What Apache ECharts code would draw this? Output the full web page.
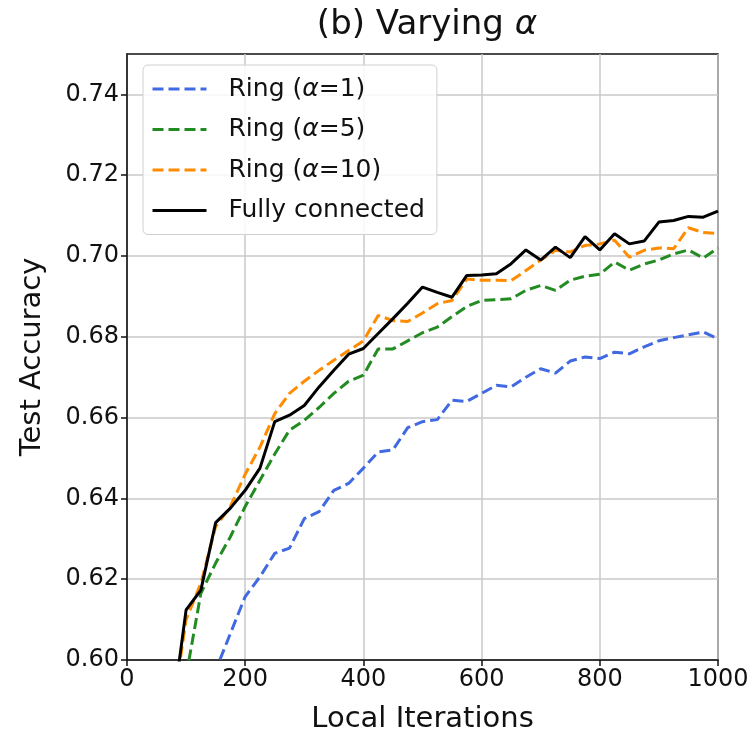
<!DOCTYPE html>
<html>
<head>
<meta charset="utf-8">
<script src="https://cdn.jsdelivr.net/npm/echarts@6/dist/echarts.min.js"></script>
<style>html,body{margin:0;padding:0;background:#fff}#c{width:753px;height:735px}</style>
</head>
<body>
<div id="c"></div>
<script>
const iterations = [75,100,125,150,175,200,225,250,275,300,325,350,375,400,425,450,475,500,525,550,575,600,625,650,675,700,725,750,775,800,825,850,875,900,925,950,975,1000];
const ringA1 = [null,null,0.585,0.5974,0.6066,0.6157,0.6206,0.6264,0.6277,0.635,0.6367,0.642,0.6437,0.6475,0.6515,0.652,0.6575,0.659,0.6595,0.6643,0.664,0.666,0.668,0.6676,0.670,0.6721,0.671,0.674,0.675,0.6746,0.6762,0.6758,0.6775,0.679,0.6798,0.6805,0.6812,0.6795];
const ringA5 = [null,0.596,0.6165,0.624,0.6305,0.638,0.6445,0.651,0.6569,0.6593,0.6625,0.666,0.669,0.6705,0.677,0.677,0.679,0.681,0.6824,0.685,0.6875,0.689,0.6892,0.6894,0.6915,0.6927,0.6915,0.694,0.695,0.6955,0.6985,0.6965,0.698,0.699,0.7005,0.7015,0.6995,0.702];
const ringA10 = [0.585,0.610,0.619,0.633,0.638,0.646,0.6527,0.661,0.666,0.669,0.6717,0.6742,0.6766,0.679,0.6853,0.684,0.6838,0.6859,0.6882,0.689,0.6943,0.694,0.694,0.6939,0.6964,0.699,0.7014,0.701,0.7026,0.703,0.7039,0.6997,0.7014,0.702,0.7018,0.707,0.7058,0.7056];
const fully = [0.585,0.6124,0.6173,0.634,0.6376,0.642,0.6475,0.659,0.6606,0.663,0.6676,0.6717,0.6757,0.6771,0.6808,0.6845,0.6883,0.6923,0.691,0.6898,0.6952,0.6953,0.6956,0.6981,0.7015,0.699,0.7022,0.6996,0.7048,0.7015,0.7055,0.703,0.7037,0.7084,0.7088,0.7098,0.7096,0.7111];
const xTicks = [0,200,400,600,800,1000];
const yTicks = [0.60,0.62,0.64,0.66,0.68,0.70,0.72,0.74];
const seriesNames = ['Ring (α=1)','Ring (α=5)','Ring (α=10)','Fully connected'];
const colors = ['#4169e1','#228b22','#ff8c00','#000000'];

const FONT = '"DejaVu Sans", sans-serif';
const pair = arr => iterations.map((x,i) => [x, arr[i]]);
const dash = [11,5];

const chart = echarts.init(document.getElementById('c'), null, {renderer:'canvas'});
const mk = (name, data, color, type) => ({
  name, type:'line', data: pair(data), showSymbol:false, symbol:'none',
  connectNulls:false, clip:true,
  lineStyle:{color, width:3, type},
  itemStyle:{color}
});
chart.setOption({
  animation:false,
  backgroundColor:'#fff',
  title:{
    text:'{n|(b) Varying }{a|α}',
    left:422, top:3, textAlign:'center',
    textStyle:{fontWeight:'normal', rich:{
      n:{fontFamily:FONT, fontSize:34, fontWeight:'normal', color:'#111'},
      a:{fontFamily:FONT, fontSize:34, fontWeight:'normal', fontStyle:'italic', color:'#111'}
    }}
  },
  grid:{left:127, right:35, top:54, bottom:75, outerBoundsMode:'none', containLabel:false,
    show:true, borderColor:'#111', borderWidth:1.5, backgroundColor:'transparent'},
  legend:{
    orient:'vertical', left:143, top:65,
    padding:[9,12,9,8], itemGap:10.5, itemWidth:54, itemHeight:14,
    backgroundColor:'rgba(255,255,255,0.85)', borderColor:'#d0d0d0', borderWidth:1, borderRadius:5,
    itemStyle:{opacity:0},
    lineStyle:{width:3},
    data: seriesNames,
    formatter: name => {
      const m = name.match(/^Ring \(α=(\d+)\)$/);
      return m ? '{t|Ring (}{a|α}{t|=' + m[1] + ')}' : '{t|' + name + '}';
    },
    textStyle:{fontFamily:FONT, fontSize:25, color:'#111', lineHeight:30, padding:[0,0,0,17],
      rich:{t:{fontFamily:FONT, fontSize:25, color:'#111'}, a:{fontFamily:FONT, fontSize:25, fontStyle:'italic', color:'#111'}}}
  },
  xAxis:{
    type:'value', min:0, max:1000, interval:200,
    name:'Local Iterations', nameLocation:'middle', nameGap:45,
    nameTextStyle:{fontFamily:FONT, fontSize:29, color:'#111'},
    axisLine:{show:true, onZero:false, lineStyle:{color:'#111', width:1.5}},
    axisTick:{show:true, length:6, lineStyle:{color:'#111', width:1.5}, customValues:xTicks},
    axisLabel:{fontFamily:FONT, fontSize:24, color:'#111', margin:8, customValues:xTicks, formatter: v => String(v)},
    splitLine:{show:true, lineStyle:{color:'#c8c8c8', width:1.5}}
  },
  yAxis:{
    type:'value', min:0.60, max:0.75, interval:0.02,
    name:'Test Accuracy', nameLocation:'middle', nameGap:80,
    nameTextStyle:{fontFamily:FONT, fontSize:29, color:'#111'},
    axisLine:{show:true, onZero:false, lineStyle:{color:'#111', width:1.5}},
    axisTick:{show:true, length:6, lineStyle:{color:'#111', width:1.5}, customValues:yTicks},
    axisLabel:{fontFamily:FONT, fontSize:24, color:'#111', margin:8, customValues:yTicks, formatter: v => Number(v).toFixed(2)},
    splitLine:{show:true, lineStyle:{color:'#c8c8c8', width:1.5}}
  },
  series:[
    mk(seriesNames[0], ringA1, colors[0], dash),
    mk(seriesNames[1], ringA5, colors[1], dash),
    mk(seriesNames[2], ringA10, colors[2], dash),
    mk(seriesNames[3], fully, colors[3], 'solid')
  ]
});
</script>
</body>
</html>
